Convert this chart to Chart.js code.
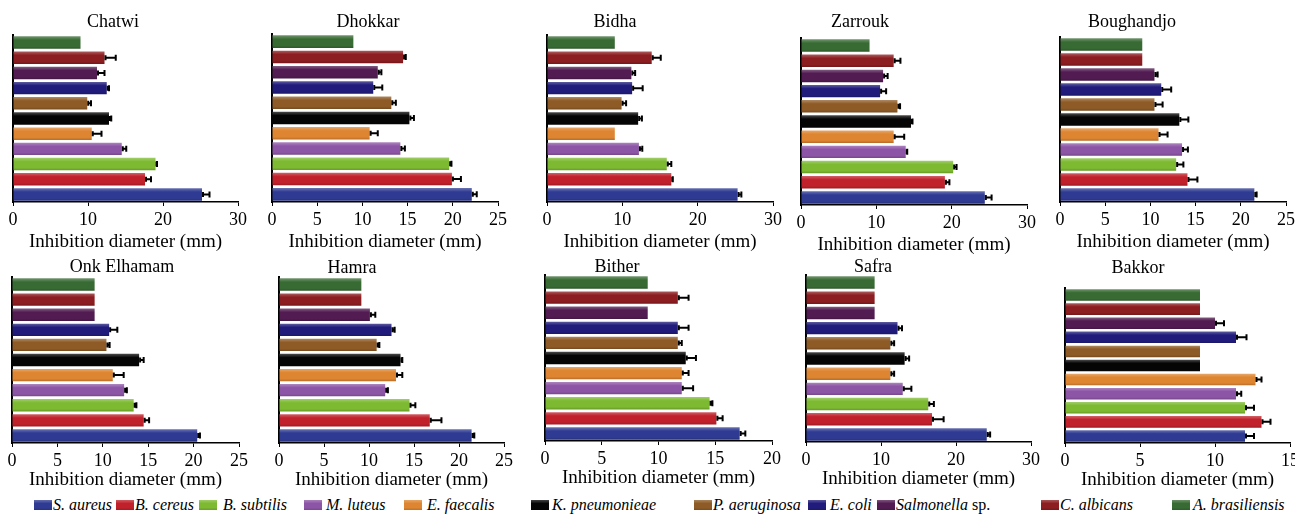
<!DOCTYPE html>
<html>
<head>
<meta charset="utf-8">
<script src="https://cdn.jsdelivr.net/npm/chart.js@4.4.1/dist/chart.umd.min.js"></script>
<style>
  html, body { margin: 0; padding: 0; background: #fff; }
  #wrap { position: relative; width: 1295px; height: 514px; overflow: hidden; background: #fff; }
  #wrap canvas { position: absolute; }
  #legend { position: absolute; left: 0; top: 496px; width: 1295px; height: 18px;
            font: italic 16px 'Liberation Serif', 'Times New Roman', serif; color: #000; }
  .item { position: absolute; top: 0; white-space: nowrap; line-height: 18px; }
  .sw { position: absolute; top: 4px; left: 0; width: 18px; height: 10px; }
  .txt { position: absolute; top: 0; }
  .up { font-style: normal; }
</style>
</head>
<body>
<div id="wrap"><div id="legend"></div></div>
<script>
// Test organisms (bottom to top in every panel)
const strains = ['S. aureus', 'B. cereus', 'B. subtilis', 'M. luteus', 'E. faecalis',
  'K. pneumonieae', 'P. aeruginosa', 'E. coli', 'Salmonella sp.', 'C. albicans', 'A. brasiliensis'];
const strainColors = ['#2f3b93', '#c1212b', '#7dba31', '#8d55a6', '#de8531', '#050505',
  '#8e5b26', '#211c7c', '#521c52', '#8c1d20', '#386b33'];

// Inhibition diameters (mm) and their error margins, same order as strains
const chatwi        = [25.2, 17.6, 19.0, 14.5, 10.5, 12.8,  9.9, 12.5, 11.2, 12.2,  9.0];
const chatwiErr     = [ 1.0,  0.8,  0.2,  0.6,  1.3,  0.3,  0.5,  0.3,  1.0,  1.5,  0];
const dhokkar       = [22.1, 19.9, 19.6, 14.2, 10.8, 15.2, 13.2, 11.2, 11.7, 14.5,  9.0];
const dhokkarErr    = [ 0.55, 1.0, 0.25, 0.5,  0.9,  0.5,  0.5,  1.0,  0.4,  0.3,  0];
const bidha         = [25.3, 16.5, 15.9, 12.2,  9.0, 12.1,  9.9, 11.3, 11.2, 13.9,  9.0];
const bidhaErr      = [ 0.5,  0.2,  0.6,  0.45, 0,    0.5,  0.6,  1.4,  0.5,  1.2,  0];
const zarrouk       = [24.4, 19.1, 20.2, 13.9, 12.3, 14.6, 12.8, 10.5, 10.9, 12.3,  9.1];
const zarroukErr    = [ 0.9,  0.6,  0.45, 0.2,  1.4,  0.2,  0.35, 0.8,  0.6,  0.9,  0];
const boughandjo    = [21.5, 14.1, 12.85, 13.5, 10.9, 13.2, 10.45, 11.2, 10.45, 9.1,  9.1];
const boughandjoErr = [ 0.25, 1.1, 0.8,  0.65, 1.0,  1.0,  0.9,  1.1,  0.35, 0,    0];
const onkElhamam    = [20.4, 14.5, 13.4, 12.35, 11.1, 14.0, 10.4, 10.7,  9.1,  9.1,  9.1];
const onkElhamamErr = [ 0.3,  0.6,  0.3,  0.3,  1.2,  0.5,  0.35, 0.9,  0,    0,    0];
const hamra         = [21.4, 16.75, 14.5, 11.8, 13.0, 13.5, 10.85, 12.5, 10.1,  9.15, 9.15];
const hamraErr      = [ 0.3,  1.3,  0.65, 0.3,  0.7,  0.2,  0.3,  0.35, 0.6,  0,    0];
const bither        = [17.15, 15.1, 14.5, 12.05, 12.05, 12.4, 11.7, 11.7,  9.05, 11.7,  9.05];
const bitherErr     = [ 0.5,  0.55, 0.25, 1.0,  0.6,  0.9,  0.35, 0.95, 0,    0.95, 0];
const safra         = [24.1, 16.8, 16.3, 12.9, 11.25, 13.15, 11.25, 12.2,  9.15, 9.15, 9.15];
const safraErr      = [ 0.45, 1.55, 0.75, 1.15, 0.5,  0.6,  0.5,  0.6,  0,    0,    0];
const bakkor        = [12.0, 13.1, 12.0, 11.4, 12.7,  9.0,  9.0, 11.4, 10.0,  9.0,  9.0];
const bakkorErr     = [ 0.6,  0.6,  0.6,  0.35, 0.4,  0,    0,    0.7,  0.6,  0,    0];

// Panel placement on the page (plot area edges in px) and axis extents
const panels = [
  { name: 'Chatwi',      values: chatwi,     errors: chatwiErr,     max: 30, step: 10, x0: 13,   x1: 238,  top: 35,  bottom: 202, tx: 113,  ty: 22,  row: 0 },
  { name: 'Dhokkar',     values: dhokkar,    errors: dhokkarErr,    max: 25, step: 5,  x0: 272,  x1: 498,  top: 34,  bottom: 202, tx: 368,  ty: 22,  row: 0 },
  { name: 'Bidha',       values: bidha,      errors: bidhaErr,      max: 30, step: 10, x0: 547,  x1: 773,  top: 35,  bottom: 202, tx: 615,  ty: 22,  row: 0 },
  { name: 'Zarrouk',     values: zarrouk,    errors: zarroukErr,    max: 30, step: 10, x0: 801,  x1: 1027, top: 38,  bottom: 205, tx: 860,  ty: 22,  row: 0 },
  { name: 'Boughandjo',  values: boughandjo, errors: boughandjoErr, max: 25, step: 5,  x0: 1060, x1: 1286, top: 37,  bottom: 202, tx: 1132, ty: 22,  row: 0 },
  { name: 'Onk Elhamam', values: onkElhamam, errors: onkElhamamErr, max: 25, step: 5,  x0: 12,   x1: 239,  top: 277, bottom: 443, tx: 122,  ty: 267, row: 1 },
  { name: 'Hamra',       values: hamra,      errors: hamraErr,      max: 25, step: 5,  x0: 279,  x1: 504,  top: 277, bottom: 443, tx: 352,  ty: 268, row: 1 },
  { name: 'Bither',      values: bither,     errors: bitherErr,     max: 20, step: 5,  x0: 545,  x1: 772,  top: 275, bottom: 441, tx: 617,  ty: 267, row: 1 },
  { name: 'Safra',       values: safra,      errors: safraErr,      max: 30, step: 10, x0: 806,  x1: 1031, top: 275, bottom: 442, tx: 873,  ty: 267, row: 1 },
  { name: 'Bakkor',      values: bakkor,     errors: bakkorErr,     max: 15, step: 5,  x0: 1065, x1: 1290, top: 288, bottom: 443, tx: 1138, ty: 268, row: 1 }
];

const SERIF = "'Liberation Serif', 'Times New Roman', serif";
Chart.defaults.font.family = SERIF;
Chart.defaults.color = '#000';
const rowTop = [0, 250];
const axisHeight = [51, 48];
const SIDE = 30;
const BAR_PCT = 0.82;

// Lighten (f > 0) or darken (f < 0) a hex colour
function shade(hex, f) {
  const n = parseInt(hex.slice(1), 16);
  let c = [n >> 16, (n >> 8) & 255, n & 255];
  c = c.map(v => f >= 0 ? v + (255 - v) * f : v * (1 + f));
  return 'rgb(' + c.map(v => Math.round(v)).join(',') + ')';
}

// Glossy vertical gradient across each bar's thickness
function barFill(c) {
  const base = strainColors[c.dataIndex];
  const chart = c.chart;
  if (c.type !== 'data' || !chart.chartArea || !chart.scales.y) return base;
  const ys = chart.scales.y;
  const y = ys.getPixelForValue(c.dataIndex);
  const half = (chart.chartArea.height / strains.length) * BAR_PCT / 2;
  const g = chart.ctx.createLinearGradient(0, y - half, 0, y + half);
  g.addColorStop(0, shade(base, 0.28));
  g.addColorStop(0.3, base);
  g.addColorStop(0.8, base);
  g.addColorStop(1, shade(base, -0.18));
  return g;
}

// Black error whiskers to the right of each bar end
const errorBars = {
  id: 'errorBars',
  afterDatasetsDraw(chart) {
    const ctx = chart.ctx;
    const xs = chart.scales.x;
    const ds = chart.data.datasets[0];
    const meta = chart.getDatasetMeta(0);
    ctx.save();
    ctx.strokeStyle = '#000';
    ctx.lineWidth = 2;
    meta.data.forEach((bar, i) => {
      const e = ds.errors[i];
      if (!e) return;
      const xa = bar.x;
      const xb = xs.getPixelForValue(ds.data[i] + e);
      const y = bar.y;
      ctx.beginPath();
      ctx.moveTo(xa, y); ctx.lineTo(xb, y);
      ctx.moveTo(xb, y - 3); ctx.lineTo(xb, y + 3);
      ctx.moveTo(xa + 1, y - 2.5); ctx.lineTo(xa + 1, y + 2.5);
      ctx.stroke();
    });
    ctx.restore();
  }
};

// Site name placed above each panel
const panelTitle = {
  id: 'panelTitle',
  afterDraw(chart, args, opts) {
    const ctx = chart.ctx;
    ctx.save();
    ctx.fillStyle = '#000';
    ctx.font = '18px ' + SERIF;
    ctx.textAlign = 'center';
    ctx.textBaseline = 'middle';
    ctx.fillText(opts.text, opts.x, opts.y);
    ctx.restore();
  }
};

const wrap = document.getElementById('wrap');

panels.forEach(p => {
  const top0 = rowTop[p.row];
  const axisH = axisHeight[p.row];
  const left = p.x0 - SIDE;
  const width = (p.x1 - p.x0) + 2 * SIDE;
  const height = (p.bottom - top0) + axisH;
  const cv = document.createElement('canvas');
  cv.width = width; cv.height = height;
  cv.style.left = left + 'px'; cv.style.top = top0 + 'px';
  cv.style.width = width + 'px'; cv.style.height = height + 'px';
  wrap.appendChild(cv);

  new Chart(cv, {
    type: 'bar',
    data: {
      labels: strains,
      datasets: [{
        data: p.values,
        errors: p.errors,
        backgroundColor: barFill,
        borderWidth: 0,
        barPercentage: BAR_PCT,
        categoryPercentage: 1
      }]
    },
    options: {
      indexAxis: 'y',
      responsive: false,
      animation: false,
      devicePixelRatio: 1,
      layout: { padding: { left: SIDE, right: SIDE, top: p.top - top0, bottom: 0 } },
      plugins: {
        legend: { display: false },
        tooltip: { enabled: false },
        title: { display: false },
        panelTitle: { text: p.name, x: p.tx - left, y: p.ty - top0 }
      },
      scales: {
        y: {
          type: 'category',
          reverse: true,
          grid: { display: false, drawTicks: false },
          ticks: { display: false },
          border: { display: true, color: '#000', width: 2 }
        },
        x: {
          type: 'linear',
          min: 0,
          max: p.max,
          afterFit: s => { s.height = axisH; },
          ticks: { stepSize: p.step, color: '#000', padding: 3, font: { family: SERIF, size: 18 } },
          grid: { display: true, drawOnChartArea: false, drawTicks: true, tickLength: 4, color: '#000', lineWidth: 1 },
          border: { display: true, color: '#000', width: 1.5 },
          title: { display: true, text: 'Inhibition diameter (mm)', color: '#000',
                   padding: { top: 0, bottom: 0 }, font: { family: SERIF, size: 19 } }
        }
      }
    },
    plugins: [errorBars, panelTitle]
  });
});

// Shared legend row: swatch left edge and text offset for each entry
const legendX   = [34, 116, 199, 304, 404, 531, 694, 808, 877, 1041, 1172];
const legendGap = [19, 19,  24,  22,  23,  21,  19,  22,  19,  19,   21];
const legend = document.getElementById('legend');
strains.forEach((s, i) => {
  const item = document.createElement('div');
  item.className = 'item';
  item.style.left = legendX[i] + 'px';
  const sw = document.createElement('span');
  sw.className = 'sw';
  sw.style.background = 'linear-gradient(' + shade(strainColors[i], 0.25) + ', ' +
    strainColors[i] + ' 35%, ' + strainColors[i] + ' 75%, ' + shade(strainColors[i], -0.15) + ')';
  const t = document.createElement('span');
  t.className = 'txt';
  t.style.left = legendGap[i] + 'px';
  if (s === 'Salmonella sp.') {
    t.innerHTML = 'Salmonella <span class="up">sp.</span>';
  } else {
    t.textContent = s;
  }
  item.appendChild(sw);
  item.appendChild(t);
  legend.appendChild(item);
});
</script>
</body>
</html>
